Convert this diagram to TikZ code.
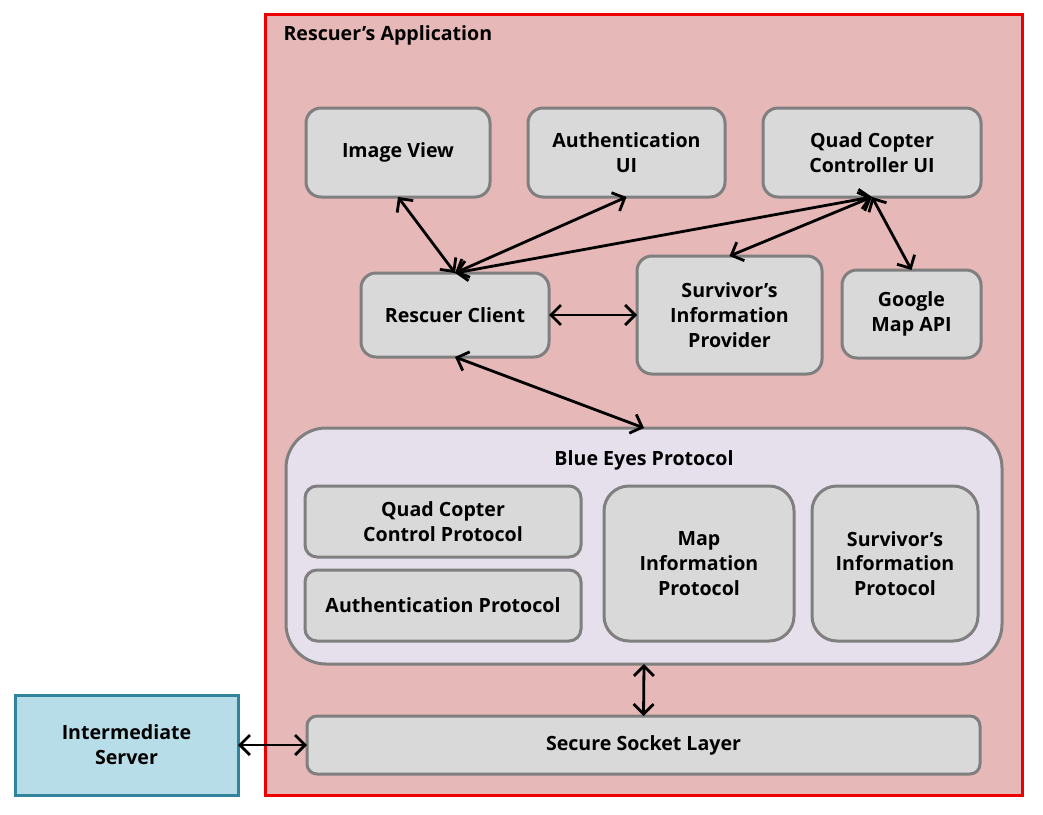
\documentclass[tikz,border=0pt]{standalone}
\usepackage{fontspec}
\setmainfont{Open Sans}
\usetikzlibrary{arrows.meta,calc}
\definecolor{appfill}{HTML}{E6B8B7}
\definecolor{appdraw}{HTML}{EE0000}
\definecolor{boxfill}{HTML}{D9D9D9}
\definecolor{boxdraw}{HTML}{7F7F7F}
\definecolor{bepfill}{HTML}{E6E0EC}
\definecolor{srvfill}{HTML}{B7DEE8}
\definecolor{srvdraw}{HTML}{31849B}
\tikzset{
  lbl/.style={font=\bfseries\fontsize{19.6}{24.8}\selectfont, align=center},
  gbox/.style={lbl, draw=boxdraw, fill=boxfill, line width=3pt, rounded corners=15pt, inner sep=0pt, outer sep=0pt},
  link/.style={line width=2.8pt, {Straight Barb[length=10pt,width=20pt,line width=2.8pt]}-{Straight Barb[length=10pt,width=20pt,line width=2.8pt]}},
}
\begin{document}
\begin{tikzpicture}[x=1pt,y=-1pt]
\useasboundingbox (0,0) rectangle (1043,814);
% application container
\node[draw=appdraw, fill=appfill, line width=3pt, minimum width=757pt, minimum height=781pt, inner sep=0pt, outer sep=0pt] (app) at (643.5,404.5) {};
\node[lbl, anchor=west] (apptitle) at (280,35) {Rescuer’s Application};
% top row
\node[gbox, minimum width=184pt, minimum height=89pt] (iv) at (398,152.5) {Image View};
\node[gbox, minimum width=197pt, minimum height=89pt] (aui) at (626.5,152.5) {Authentication\\UI};
\node[gbox, minimum width=218pt, minimum height=89pt] (qui) at (872,152.5) {Quad Copter\\Controller UI};
% middle row
\node[gbox, minimum width=188pt, minimum height=84pt] (rc) at (455,315) {Rescuer Client};
\node[gbox, minimum width=185pt, minimum height=118pt] (sip) at (729.5,315) {Survivor’s\\Information\\Provider};
\node[gbox, minimum width=139pt, minimum height=88pt] (gm) at (911.5,314) {Google\\Map API};
% blue eyes protocol
\node[draw=boxdraw, fill=bepfill, line width=3pt, rounded corners=40pt, minimum width=716pt, minimum height=236pt, inner sep=0pt, outer sep=0pt] (bep) at (644,546) {};
\node[lbl] (beptitle) at (644,460) {Blue Eyes Protocol};
\node[gbox, minimum width=276pt, minimum height=71pt, rounded corners=12pt] (qcp) at (443,521.5) {Quad Copter\\Control Protocol};
\node[gbox, minimum width=276pt, minimum height=71pt, rounded corners=12pt] (ap) at (443,605.5) {Authentication Protocol};
\node[gbox, minimum width=190pt, minimum height=155pt, rounded corners=25pt] (mip) at (699,563.5) {Map\\Information\\Protocol};
\node[gbox, minimum width=166pt, minimum height=155pt, rounded corners=25pt] (sipr) at (895,563.5) {Survivor’s\\Information\\Protocol};
% SSL
\node[gbox, minimum width=673pt, minimum height=58pt, rounded corners=10pt] (ssl) at (643.5,745) {Secure Socket Layer};
% Intermediate server
\node[lbl, draw=srvdraw, fill=srvfill, line width=3pt, minimum width=223pt, minimum height=100pt, inner sep=0pt, outer sep=0pt] (is) at (126.5,745) {Intermediate\\Server};
% connectors
\draw[link] (iv.south) -- (rc.north);
\draw[link] (aui.south) -- (rc.north);
\draw[link] (qui.south) -- (rc.north);
\draw[link] (qui.south) -- (sip.north);
\draw[link] (qui.south) -- (gm.north);
\draw[link] (rc.east) -- (sip.west);
\draw[link] (rc.south) -- (bep.north);
\draw[link] (bep.south) -- (ssl.north);
\draw[link] (is.east) -- (ssl.west);
\end{tikzpicture}
\end{document}
